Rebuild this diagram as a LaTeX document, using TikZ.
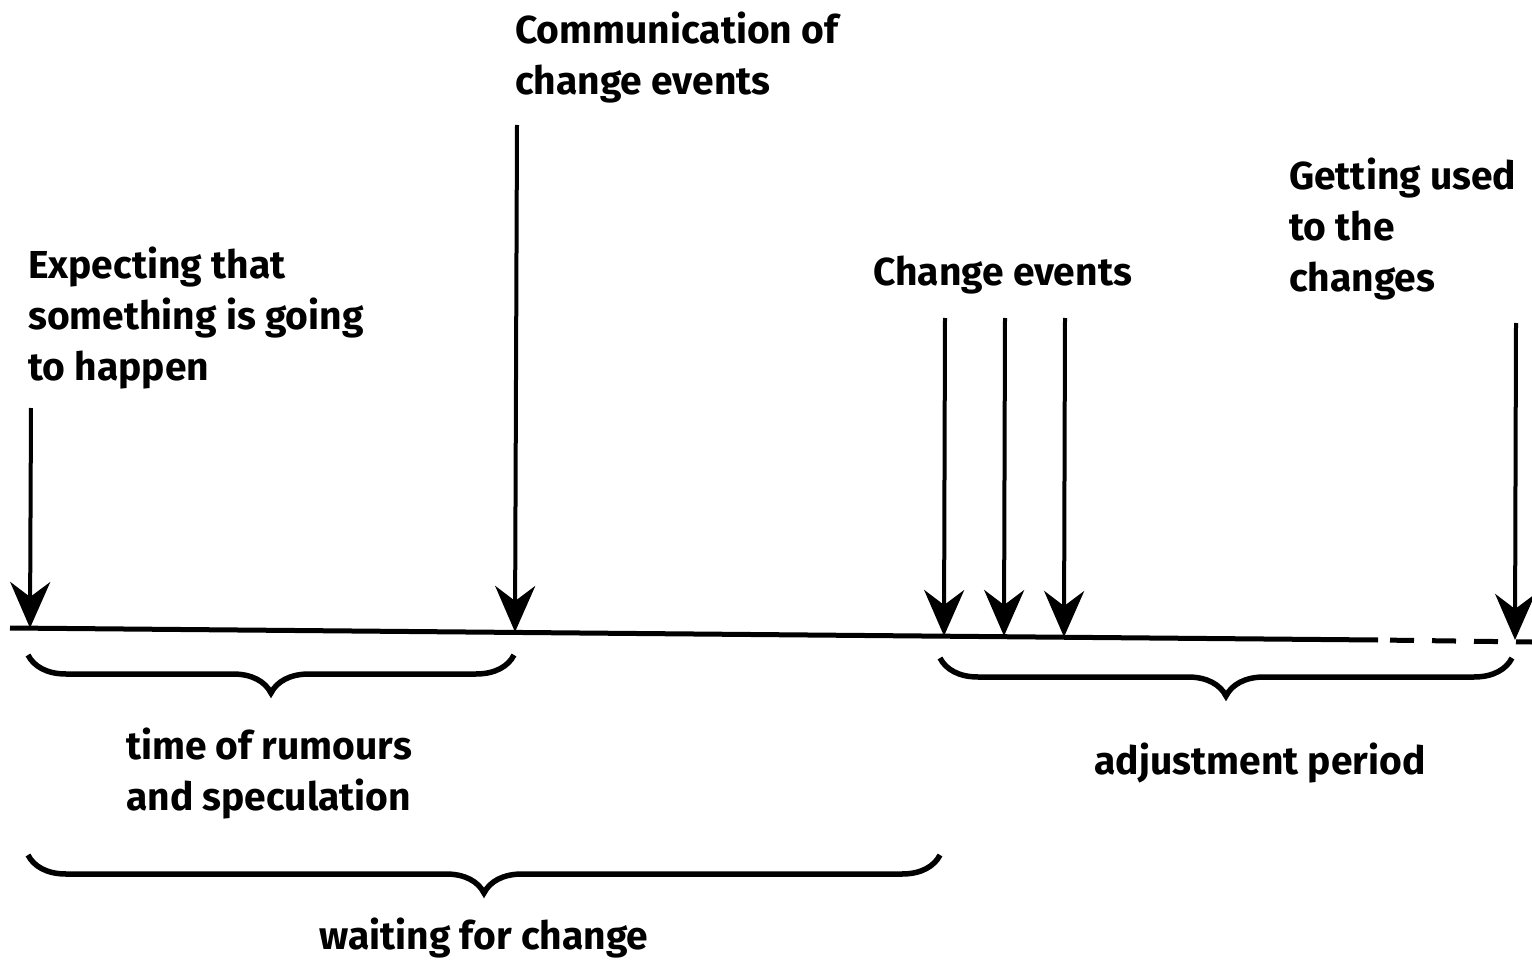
\documentclass[tikz,border=0pt]{standalone}
\usepackage{fontspec}
\setmainfont{Fira Sans}
\usetikzlibrary{arrows.meta,decorations.pathreplacing}
\tikzset{
  lbl/.style={inner sep=0pt, align=left, font=\fontsize{39}{51}\selectfont\bfseries},
  evarrow/.style={line width=4pt, -{Stealth[length=46pt, width=40pt, inset=15pt]}},
  axis/.style={line width=5pt},
  axisdash/.style={line width=5pt, dash pattern=on 24pt off 18pt, dash phase=30pt},
  brc/.style={line width=5.5pt, decorate, decoration={brace, mirror, amplitude=38pt, aspect=0.5}}
}
\begin{document}
\begin{tikzpicture}[x=1pt,y=1pt]
\useasboundingbox (0,0) rectangle (1532,-960);
% axis
\coordinate (a0) at (10,-628);
\coordinate (a1) at (1378,-640);
\coordinate (a2) at (1532,-642);
\draw[axis] (a0) -- (a1);
\draw[axisdash] (a1) -- (a2);
% arrows
\coordinate (t1) at (31,-408);  \coordinate (h1) at (30,-628);
\coordinate (t2) at (517,-125); \coordinate (h2) at (515,-632);
\coordinate (t3) at (945,-318); \coordinate (h3) at (944,-636);
\coordinate (t4) at (1005,-318); \coordinate (h4) at (1004,-636);
\coordinate (t5) at (1065,-318); \coordinate (h5) at (1064,-637);
\coordinate (t6) at (1516,-323); \coordinate (h6) at (1515,-640);
\draw[evarrow] (t1) -- (h1);
\draw[evarrow] (t2) -- (h2);
\draw[evarrow] (t3) -- (h3);
\draw[evarrow] (t4) -- (h4);
\draw[evarrow] (t5) -- (h5);
\draw[evarrow] (t6) -- (h6);
% labels
\node[lbl, anchor=north west] (l1) at (28,-247) {Expecting that\\something is going\\to happen};
\node[lbl, anchor=north west] (l2) at (515,-12) {Communication of\\change events};
\node[lbl, anchor=north west] (l3) at (873,-256) {Change events};
\node[lbl, anchor=north west] (l4) at (1289,-158) {Getting used\\to the\\changes};
% braces
\coordinate (b1a) at (28,-655); \coordinate (b1b) at (514,-655);
\coordinate (b2a) at (940,-658); \coordinate (b2b) at (1512,-658);
\coordinate (b3a) at (28,-855); \coordinate (b3b) at (940,-855);
\draw[brc] (b1a) -- (b1b);
\draw[brc] (b2a) -- (b2b);
\draw[brc] (b3a) -- (b3b);
\node[lbl, anchor=north west] (l5) at (126,-728) {time of rumours\\and speculation};
\node[lbl, anchor=north] (l6) at (1260,-743) {adjustment period};
\node[lbl, anchor=north] (l7) at (484,-918) {waiting for change};
\end{tikzpicture}
\end{document}
